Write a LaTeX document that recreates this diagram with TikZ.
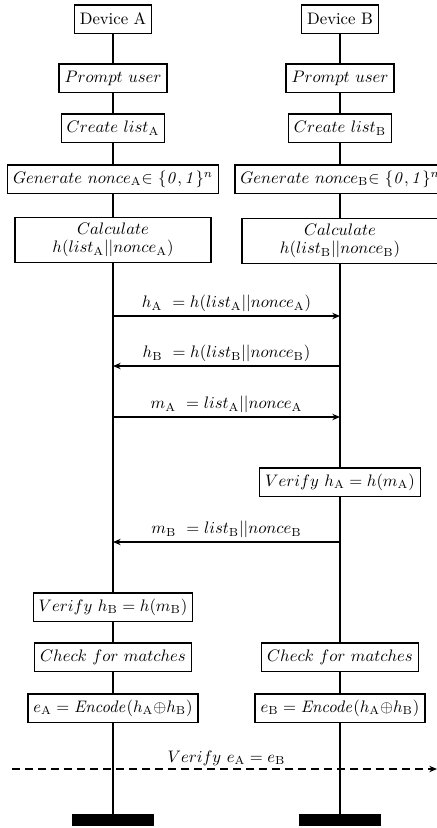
\documentclass[tikz,border=0pt]{standalone}
\usetikzlibrary{arrows.meta}
\tikzset{
  box/.style={draw, thick, fill=white, minimum height=17pt, inner sep=3.3pt},
  life/.style={thick},
  msg/.style={thick, -{Stealth[length=4.6pt,width=3.8pt]}},
  lbl/.style={above, inner sep=2pt},
  bar/.style={fill=black, draw=none}
}
\newcommand{\sA}{_{\mathrm{A}}}
\newcommand{\sB}{_{\mathrm{B}}}
\begin{document}
\begin{tikzpicture}[x=0.6pt,y=-0.6pt]
\useasboundingbox (0,0) rectangle (437,828);
% column A nodes
\node[box] (devA) at (113,19) {Device A};
\node[box] (promptA) at (113,78) {$Prompt\ user$};
\node[box] (createA) at (113,128) {$Create\ list\sA$};
\node[box] (genA) at (113,179) {$Generate\ nonce\sA{\in}\ \{\mathit{0},\mathit{1}\}^n$};
\node[box, align=center, minimum width=196*0.6pt] (calcA) at (113,240) {$Calculate$\\[-1pt]$h(list\sA||nonce\sA)$};
\node[box] (verA) at (113,607) {$Verify\ h\sB = h(m\sB)$};
\node[box] (checkA) at (113,657) {$Check\ for\ matches$};
\node[box] (encA) at (113,708) {$e\sA = \mathit{Encode}(h\sA{\oplus}h\sB)$};
\node[bar, minimum width=82*0.6pt, minimum height=12*0.6pt, inner sep=0pt] (endA) at (113,820) {};
% column B nodes
\node[box] (devB) at (340,19) {Device B};
\node[box] (promptB) at (340,78) {$Prompt\ user$};
\node[box] (createB) at (340,128) {$Create\ list\sB$};
\node[box] (genB) at (340,179) {$Generate\ nonce\sB{\in}\ \{\mathit{0},\mathit{1}\}^n$};
\node[box, align=center, minimum width=196*0.6pt] (calcB) at (340,241) {$Calculate$\\[-1pt]$h(list\sB||nonce\sB)$};
\node[box] (verB) at (340,482) {$Verify\ h\sA = h(m\sA)$};
\node[box] (checkB) at (340,657) {$Check\ for\ matches$};
\node[box] (encB) at (340,708) {$e\sB = \mathit{Encode}(h\sA{\oplus}h\sB)$};
\node[bar, minimum width=82*0.6pt, minimum height=12*0.6pt, inner sep=0pt] (endB) at (340,820) {};
% lifelines
\draw[life] (devA) -- (promptA) -- (createA) -- (genA) -- (calcA) -- (verA) -- (checkA) -- (encA) -- (endA);
\draw[life] (devB) -- (promptB) -- (createB) -- (genB) -- (calcB) -- (verB) -- (checkB) -- (encB) -- (endB);
% message points
\coordinate (a1) at (113,316); \coordinate (b1) at (340,316);
\coordinate (a2) at (113,366); \coordinate (b2) at (340,366);
\coordinate (a3) at (113,417); \coordinate (b3) at (340,417);
\coordinate (a4) at (113,542); \coordinate (b4) at (340,542);
\coordinate (d1) at (12,769); \coordinate (d2) at (437,769);
\coordinate (da) at (113,769); \coordinate (db) at (340,769);
\draw[msg] (a1) -- node[lbl] {$h\sA\ = h(list\sA||nonce\sA)$} (b1);
\draw[msg] (b2) -- node[lbl] {$h\sB\ = h(list\sB||nonce\sB)$} (a2);
\draw[msg] (a3) -- node[lbl] {$m\sA\ = list\sA||nonce\sA$} (b3);
\draw[msg] (b4) -- node[lbl] {$m\sB\ = list\sB||nonce\sB$} (a4);
\draw[msg, dash pattern=on 4.8pt off 3pt] (d1) -- (d2);
\path (da) -- node[lbl] {$Verify\ e\sA = e\sB$} (db);
\end{tikzpicture}
\end{document}
